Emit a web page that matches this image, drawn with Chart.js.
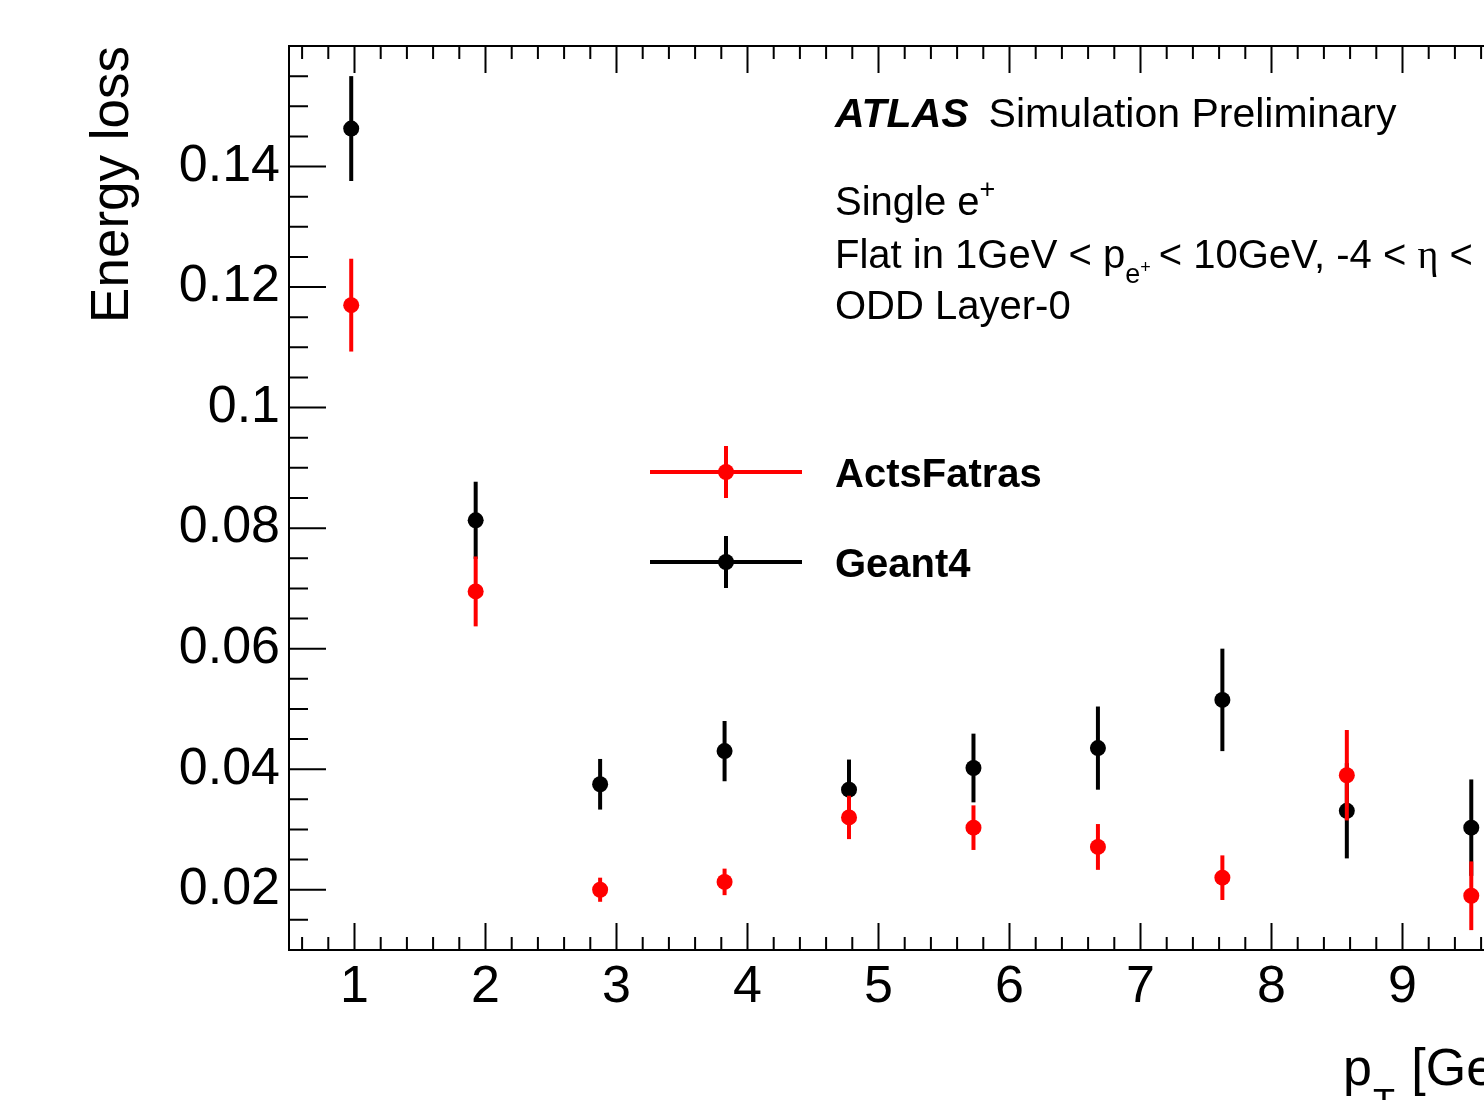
<!DOCTYPE html>
<html>
<head>
<meta charset="utf-8">
<script src="https://cdn.jsdelivr.net/npm/chart.js@4/dist/chart.umd.min.js"></script>
<style>
  html, body { margin: 0; padding: 0; background: #fff; overflow: hidden; }
  #wrap { position: relative; width: 1620px; height: 1100px; }
</style>
</head>
<body>
<div id="wrap"><canvas id="myChart"></canvas></div>

<script>
    // bin centres in pT [GeV] and the two series with their errors
    const binCenters = [0.975, 1.925, 2.875, 3.825, 4.775, 5.725, 6.675, 7.625, 8.575, 9.525];
    const actsLoss   = [0.1170, 0.0695, 0.0200, 0.0213, 0.0320, 0.0303, 0.0271, 0.0220, 0.0390, 0.0190];
    const actsErr    = [0.0077, 0.0058, 0.0020, 0.0022, 0.0036, 0.0037, 0.0038, 0.0037, 0.0075, 0.0057];
    const geantLoss  = [0.1463, 0.0813, 0.0375, 0.0430, 0.0366, 0.0402, 0.0435, 0.0515, 0.0331, 0.0303];
    const geantErr   = [0.0087, 0.0064, 0.0042, 0.0050, 0.0050, 0.0057, 0.0069, 0.0085, 0.0079, 0.0080];
    const xTicks = [1, 2, 3, 4, 5, 6, 7, 8, 9, 10];
    const yTicks = [0.02, 0.04, 0.06, 0.08, 0.1, 0.12, 0.14];

    const FONT = "'Liberation Sans', Arial, Helvetica, sans-serif";

    function drawRuns(ctx, x, y, runs) {
        runs.forEach(r => {
            ctx.font = r.font;
            ctx.fillText(r.t, x, y + (r.dy || 0));
            x += ctx.measureText(r.t).width + (r.gap || 0);
        });
    }

    // ROOT-like frame, ticks, error bars, labels and legend
    const rootStyle = {
        id: 'rootStyle',
        beforeDatasetDraw(chart, args) {
            const ds = chart.data.datasets[args.index];
            const xs = chart.scales.x, ys = chart.scales.y;
            const ctx = chart.ctx;
            ctx.save();
            ctx.strokeStyle = ds.borderColor;
            ctx.lineWidth = 4;
            ds.data.forEach((p, i) => {
                const px = xs.getPixelForValue(p.x);
                ctx.beginPath();
                ctx.moveTo(px, ys.getPixelForValue(p.y - ds.yErr[i]));
                ctx.lineTo(px, ys.getPixelForValue(p.y + ds.yErr[i]));
                ctx.stroke();
            });
            ctx.restore();
        },
        afterDraw(chart) {
            const ctx = chart.ctx;
            const a = chart.chartArea;
            const xs = chart.scales.x, ys = chart.scales.y;
            ctx.save();
            ctx.strokeStyle = '#000';
            ctx.lineWidth = 2;
            ctx.strokeRect(a.left, a.top, a.right - a.left, a.bottom - a.top);

            // x ticks (bottom and top), minor every 0.2
            ctx.beginPath();
            for (let v = 0.6; v < 10.001; v += 0.2) {
                const major = Math.abs(v - Math.round(v)) < 1e-6;
                const len = major ? 27 : 13;
                const px = xs.getPixelForValue(v);
                ctx.moveTo(px, a.bottom); ctx.lineTo(px, a.bottom - len);
                ctx.moveTo(px, a.top); ctx.lineTo(px, a.top + len);
            }
            // y ticks, minor every 0.005
            for (let k = 2; k <= 32; k++) {
                const v = k * 0.005;
                const major = k % 4 === 0;
                const len = major ? 37 : 19;
                const py = ys.getPixelForValue(v);
                ctx.moveTo(a.left, py); ctx.lineTo(a.left + len, py);
                ctx.moveTo(a.right, py); ctx.lineTo(a.right - len, py);
            }
            ctx.stroke();

            ctx.fillStyle = '#000';
            ctx.textBaseline = 'alphabetic';

            // y title
            ctx.save();
            ctx.translate(128, a.top);
            ctx.rotate(-Math.PI / 2);
            ctx.textAlign = 'right';
            ctx.font = '53px ' + FONT;
            ctx.fillText('Energy loss', 0, 0);
            ctx.restore();

            // x title
            ctx.textAlign = 'left';
            drawRuns(ctx, 1343, 1085, [
                { t: 'p', font: '52px ' + FONT, gap: 1 },
                { t: 'T', font: '36px ' + FONT, dy: 30, gap: 2 },
                { t: ' [GeV]', font: '52px ' + FONT }
            ]);

            // ATLAS label
            drawRuns(ctx, 835, 127, [
                { t: 'ATLAS', font: 'italic bold 41px ' + FONT, gap: 20 },
                { t: 'Simulation Preliminary', font: '41px ' + FONT }
            ]);
            drawRuns(ctx, 835, 215, [
                { t: 'Single e', font: '40px ' + FONT },
                { t: '+', font: '27px ' + FONT, dy: -17 }
            ]);
            drawRuns(ctx, 835, 268, [
                { t: 'Flat in 1GeV < p', font: '40px ' + FONT },
                { t: 'e', font: '27px ' + FONT, dy: 15 },
                { t: '+', font: '18px ' + FONT, dy: 5, gap: 8 },
                { t: '< 10GeV, -4 < ', font: '40px ' + FONT },
                { t: '\u03B7', font: '40px "Liberation Serif", "DejaVu Serif", serif' },
                { t: ' < 4', font: '40px ' + FONT }
            ]);
            drawRuns(ctx, 835, 319, [{ t: 'ODD Layer-0', font: '40px ' + FONT }]);

            // legend
            const legendY = [472, 562];
            chart.data.datasets.forEach((ds, i) => {
                const ly = legendY[i];
                ctx.strokeStyle = ds.borderColor;
                ctx.fillStyle = ds.borderColor;
                ctx.lineWidth = 4;
                ctx.beginPath();
                ctx.moveTo(650, ly); ctx.lineTo(802, ly);
                ctx.moveTo(726, ly - 26); ctx.lineTo(726, ly + 26);
                ctx.stroke();
                ctx.beginPath();
                ctx.arc(726, ly, 8, 0, Math.PI * 2);
                ctx.fill();
                ctx.fillStyle = '#000';
                ctx.textBaseline = 'alphabetic';
                ctx.font = 'bold 40px ' + FONT;
                ctx.fillText(ds.label, 835, ly + 15);
            });
            ctx.restore();
        }
    };

    const ctx = document.getElementById('myChart').getContext('2d');
    const myChart = new Chart(ctx, {
        type: 'scatter',
        data: {
            datasets: [
                {
                    label: 'ActsFatras',
                    data: binCenters.map((x, i) => ({ x: x, y: actsLoss[i] })),
                    yErr: actsErr,
                    backgroundColor: 'rgb(255, 0, 0)',
                    borderColor: 'rgb(255, 0, 0)',
                    pointRadius: 8,
                    pointBorderWidth: 0
                },
                {
                    label: 'Geant4',
                    data: binCenters.map((x, i) => ({ x: x, y: geantLoss[i] })),
                    yErr: geantErr,
                    backgroundColor: '#000',
                    borderColor: '#000',
                    pointRadius: 8,
                    pointBorderWidth: 0
                }
            ]
        },
        options: {
            responsive: true,
            maintainAspectRatio: false,
            animation: false,
            layout: { padding: { top: 46, right: 86.5, left: 0, bottom: 0 } },
            plugins: {
                legend: { display: false },
                tooltip: { enabled: false }
            },
            scales: {
                x: {
                    type: 'linear',
                    min: 0.5,
                    max: 10,
                    afterFit: s => { s.height = 150; },
                    afterBuildTicks: s => { s.ticks = xTicks.map(v => ({ value: v })); },
                    grid: { display: false, drawTicks: false },
                    border: { display: false },
                    ticks: {
                        color: '#000',
                        font: { family: FONT, size: 52 },
                        padding: 6,
                        maxRotation: 0,
                        autoSkip: false
                    }
                },
                y: {
                    type: 'linear',
                    min: 0.01,
                    max: 0.16,
                    afterFit: s => { s.width = 289; },
                    afterBuildTicks: s => { s.ticks = yTicks.map(v => ({ value: v })); },
                    grid: { display: false, drawTicks: false },
                    border: { display: false },
                    ticks: {
                        color: '#000',
                        font: { family: FONT, size: 52 },
                        padding: 9,
                        autoSkip: false,
                        callback: v => String(+v.toFixed(3))
                    }
                }
            }
        },
        plugins: [rootStyle]
    });
</script>
</body>
</html>
